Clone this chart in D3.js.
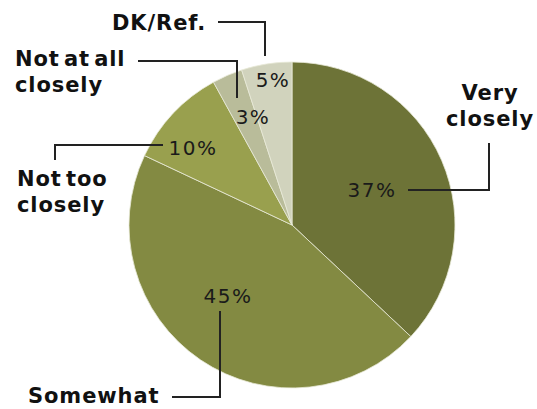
<!DOCTYPE html>
<html><head><meta charset="utf-8">
<script src="https://cdn.jsdelivr.net/npm/d3@7"></script>
<style>body{margin:0;background:#fff}svg{display:block}</style>
</head><body>
<svg id="c" width="537" height="409"></svg>
<script>
const categories = ["Very closely", "Somewhat", "Not too closely", "Not at all closely", "DK/Ref."];
const values = [37, 45, 10, 3, 5];
const colors = ["#6d7337", "#838a42", "#99a04e", "#b9bc9a", "#d1d3bd"];

// label layout (annotation placement)
const catLines = [["Very", "closely"], ["Somewhat"], ["Not too", "closely"], ["Not at all", "closely"], ["DK/Ref."]];
const catPos = [[490, 100, "middle"], [28, 403, "start"], [17, 186, "start"], [15, 66, "start"], [112, 30, "start"]];
const pctPos = [[372, 197], [228, 303], [193, 155], [253, 124], [273, 87]];
const leaders = [
  [[408, 190], [489, 190], [489, 143]],
  [[220, 311], [220, 397], [172, 397]],
  [[163, 145], [55, 145], [55, 160]],
  [[138, 61], [237, 61], [237, 98]],
  [[218, 22], [265, 22], [265, 56]]
];

const svg = d3.select("#c");
const cx = 292, cy = 225, R = 163;
const pie = d3.pie().sort(null).value(d => d)(values);
const arc = d3.arc().innerRadius(0).outerRadius(R);
const g = svg.append("g").attr("transform", `translate(${cx},${cy})`);
g.selectAll("path").data(pie).join("path")
  .attr("d", arc).attr("fill", (d, i) => colors[i])
  .attr("stroke", "#e8ead8").attr("stroke-width", 0.8);

svg.selectAll("polyline.l").data(leaders).join("polyline")
  .attr("points", d => d.map(p => p.join(",")).join(" "))
  .attr("fill", "none").attr("stroke", "#222").attr("stroke-width", 2);

svg.selectAll("text.p").data(values).join("text")
  .attr("x", (d, i) => pctPos[i][0]).attr("y", (d, i) => pctPos[i][1])
  .attr("text-anchor", "middle")
  .attr("font-family", "DejaVu Sans, Verdana, sans-serif")
  .attr("font-size", 20).attr("letter-spacing", 1.5).attr("fill", "#1a1a1a")
  .text(d => d + "%");

categories.forEach((c, i) => {
  const t = svg.append("text")
    .attr("x", catPos[i][0]).attr("y", catPos[i][1])
    .attr("text-anchor", catPos[i][2])
    .attr("font-family", "DejaVu Sans, Verdana, sans-serif")
    .attr("font-weight", "bold").attr("font-size", 21).attr("letter-spacing", 0.9)
    .attr("word-spacing", -4)
    .attr("fill", "#111");
  catLines[i].forEach((ln, j) => {
    t.append("tspan").attr("x", catPos[i][0]).attr("dy", j === 0 ? 0 : 26).text(ln);
  });
});
</script>
</body></html>
